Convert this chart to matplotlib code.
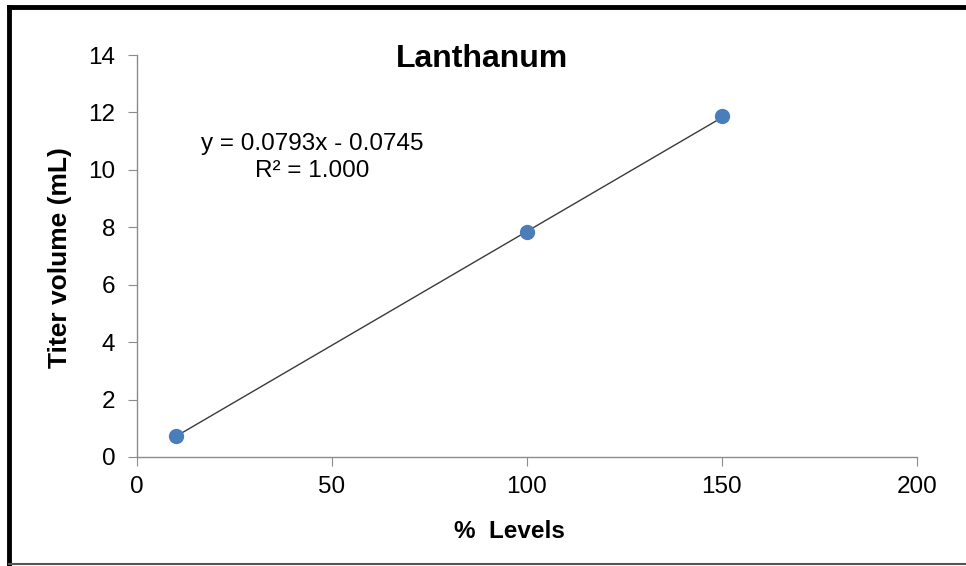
import matplotlib.pyplot as plt
import numpy as np
from matplotlib.lines import Line2D

plt.rcParams['font.family'] = ['Liberation Sans', 'DejaVu Sans']

# data
levels = [10, 100, 150]
titer = [0.73, 7.84, 11.87]
slope = 0.0793
intercept = -0.0745
eq_lines = ['y = 0.0793x - 0.0745', 'R² = 1.000']

fig = plt.figure(figsize=(9.66, 5.66), dpi=100)
ax = fig.add_axes([0.1418, 0.1926, 0.8072, 0.7102])

# trendline
xs = np.array([min(levels), max(levels)])
ax.plot(xs, slope * xs + intercept, color='#3a3a3a', linewidth=1.0, zorder=2)
ax.scatter(levels, titer, s=100, color='#4a7ebb', edgecolors='#4a7ebb', zorder=3)

ax.set_xlim(0, 200)
ax.set_ylim(0, 14)
ax.set_xticks(np.arange(0, 201, 50))
ax.set_yticks(np.arange(0, 15, 2))
for s in ['top', 'right']:
    ax.spines[s].set_visible(False)
for s in ['left', 'bottom']:
    ax.spines[s].set_color('#8c8c8c')
    ax.spines[s].set_linewidth(1.0)
ax.tick_params(direction='out', length=6.5, color='#8c8c8c', labelsize=17.5)
ax.tick_params(axis='y', pad=9)
ax.tick_params(axis='x', pad=7)

fig.text(482 / 966, 1 - 67 / 566, 'Lanthanum', fontsize=23, fontweight='bold',
         ha='center', va='baseline')
fig.text(509 / 966, 1 - 538 / 566, '%  Levels', fontsize=17.5, fontweight='bold',
         ha='center', va='baseline')
fig.text(60 / 966, 1 - 258 / 566, 'Titer volume (mL)', fontsize=19, fontweight='bold',
         ha='center', va='center', rotation=90)

ax.text(0.2244, 0.7637, eq_lines[0], transform=ax.transAxes,
        ha='center', va='baseline', fontsize=17.5)
ax.text(0.2244, 0.6965, eq_lines[1], transform=ax.transAxes,
        ha='center', va='baseline', fontsize=17.5)

# figure border
fig.add_artist(Line2D([0.0093, 0.0093], [0, 0.9876], color='black', linewidth=3.5))
fig.add_artist(Line2D([0.0093, 1.0], [0.9876, 0.9876], color='black', linewidth=3.5))
fig.add_artist(Line2D([0.0093, 1.0], [0.003, 0.003], color='#555555', linewidth=1.5))

fig.savefig('out.png', dpi=100)
